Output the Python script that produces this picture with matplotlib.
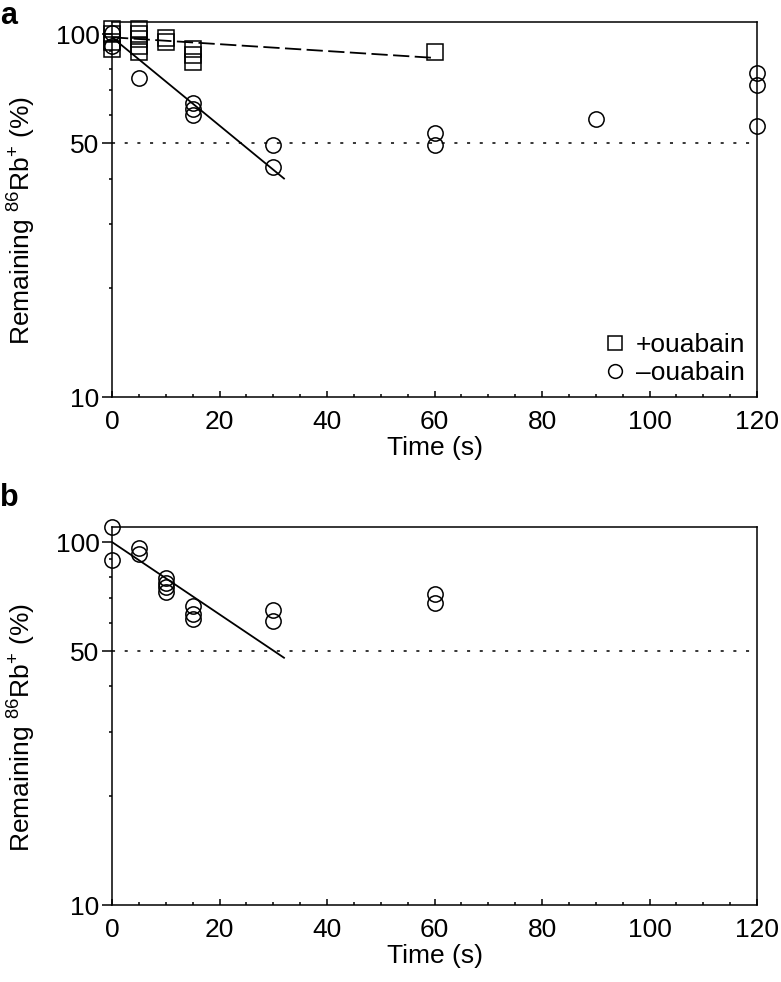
import matplotlib
matplotlib.use("Agg")
import matplotlib.pyplot as plt
from matplotlib.ticker import FixedLocator, FuncFormatter, MultipleLocator, NullFormatter

plt.rcParams["font.family"] = ["Liberation Sans", "DejaVu Sans"]
plt.rcParams["mathtext.default"] = "regular"

# panel a: +ouabain (squares)
plus_t = [0, 0, 0, 0, 5, 5, 5, 5, 5, 10, 10, 15, 15, 15, 60]
plus_y = [103, 100, 95, 91, 103, 100, 97, 93, 89.5, 97.5, 95, 91, 87.5, 84, 89.5]
# panel a: -ouabain (circles)
minus_t = [0, 0, 5, 15, 15, 15, 30, 30, 60, 60, 90, 120, 120, 120]
minus_y = [101, 93, 75.5, 64.5, 62, 60, 49.5, 43, 53.5, 49.5, 58.5, 78, 72.5, 56]
# exponential fits, drawn as straight lines on the log axis
fit_plus_t = [0, 60]
fit_plus_y = [98, 86]
fit_minus_t = [0, 32]
fit_minus_y = [98, 40]

# panel b: circles
b_t = [0, 0, 5, 5, 10, 10, 10, 10, 15, 15, 15, 30, 30, 60, 60]
b_y = [110, 89, 96, 92.5, 79.5, 77, 75, 73, 66.5, 63.5, 61.5, 65, 60.5, 72, 68]
fit_b_t = [0, 32]
fit_b_y = [100, 48]

half_level = 50
x_ticks = [0, 20, 40, 60, 80, 100, 120]
y_ticks = [10, 50, 100]
y_minor = [20, 30, 40, 60, 70, 80, 90]

FS = 19
MARK = dict(ls="none", ms=11, mew=1.1, mfc="none", mec="black", clip_on=False)


def style_axes(ax, ymax):
    ax.set_yscale("log")
    ax.set_xlim(0, 120)
    ax.set_ylim(10, ymax)
    ax.xaxis.set_major_locator(FixedLocator(x_ticks))
    ax.xaxis.set_minor_locator(MultipleLocator(5))
    ax.yaxis.set_major_locator(FixedLocator(y_ticks))
    ax.yaxis.set_major_formatter(FuncFormatter(lambda v, _: f"{v:g}"))
    ax.yaxis.set_minor_locator(FixedLocator(y_minor))
    ax.yaxis.set_minor_formatter(NullFormatter())
    ax.tick_params(axis="x", which="major", direction="in", length=4.5, width=1.1,
                   pad=9, labelsize=FS)
    ax.tick_params(axis="x", which="minor", direction="in", length=2.2, width=1.1)
    ax.tick_params(axis="y", which="major", direction="out", length=7, width=1.1,
                   pad=2, labelsize=FS)
    ax.tick_params(axis="y", which="minor", direction="out", length=2.5, width=1.1)
    for sp in ax.spines.values():
        sp.set_linewidth(1.1)
    ax.axhline(half_level, color="black", lw=1.1, ls=(0, (2, 6.3)))
    ax.set_xlabel("Time (s)", fontsize=FS, labelpad=2)
    ax.set_ylabel("Remaining $^{86}$Rb$^{+}$ (%)", fontsize=FS)
    ax.yaxis.set_label_coords(-0.115, 0.47)


fig = plt.figure(figsize=(7.81, 9.82), dpi=100)
ax_a = fig.add_axes([0.1434, 0.5957, 0.8259, 0.3819])
ax_b = fig.add_axes([0.1434, 0.0784, 0.8259, 0.3849])

style_axes(ax_a, 108)
ax_a.plot(fit_plus_t, fit_plus_y, color="black", lw=1.3, ls=(0, (9, 3)))
ax_a.plot(fit_minus_t, fit_minus_y, color="black", lw=1.3)
ax_a.plot(plus_t, plus_y, marker="s", label="+ouabain", **MARK)
ax_a.plot(minus_t, minus_y, marker="o", label="\u2013ouabain", **MARK)
ax_a.legend(loc="lower right", frameon=False, fontsize=FS, handlelength=0.8,
            handletextpad=0.4, labelspacing=0.15, borderaxespad=0.05,
            markerscale=0.9)

style_axes(ax_b, 110)
ax_b.plot(fit_b_t, fit_b_y, color="black", lw=1.3)
ax_b.plot(b_t, b_y, marker="o", **MARK)

fig.text(0.0, 0.999, "a", fontsize=22, fontweight="bold", va="top")
fig.text(0.0, 1 - 506 / 982, "b", fontsize=22, fontweight="bold", va="baseline")

fig.savefig("out.png", dpi=100)
